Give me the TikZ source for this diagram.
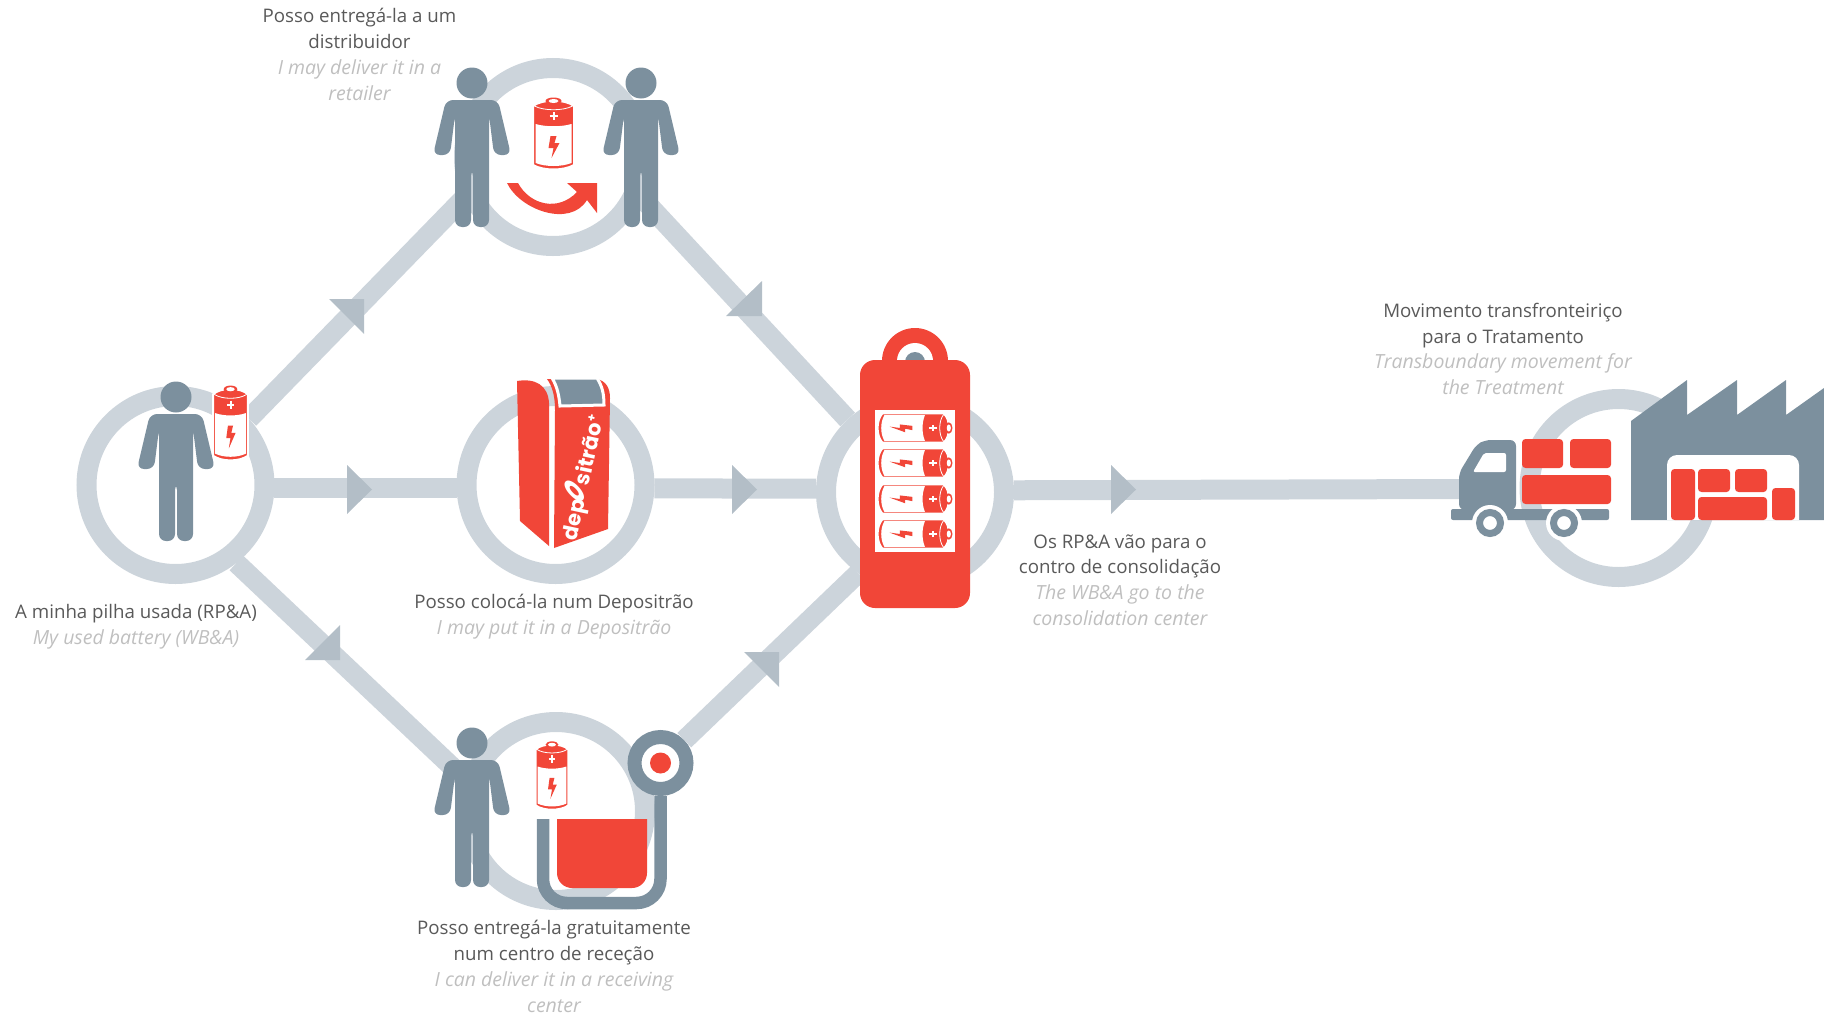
\documentclass[tikz,border=0pt]{standalone}
\usepackage{fontspec}
\setmainfont{Open Sans}
\newfontfamily\binfont{Poppins}
\definecolor{ringgrey}{HTML}{CCD4DB}
\definecolor{tipgrey}{HTML}{B3BEC7}
\definecolor{slate}{HTML}{7C909E}
\definecolor{alert}{HTML}{F14638}
\definecolor{textdark}{HTML}{595959}
\definecolor{textsoft}{HTML}{BFBFBF}
\newcommand{\eng}[1]{{\fontsize{9.75}{12.9}\selectfont\itshape\color{textsoft}#1}}
\tikzset{
  ring/.style={draw=ringgrey,circle,line width=10pt,minimum size=89pt,inner sep=0pt},
  flow/.style={draw=ringgrey,line width=10pt},
  tip/.style={fill=tipgrey},
  infotext/.style={align=center,text=textdark,inner sep=0pt,font=\fontsize{9.35}{12.9}\selectfont},
  wheel/.style={circle,draw=slate,fill=white,line width=3.5pt,minimum size=10.5pt,inner sep=0pt},
  block/.style={fill=alert,rounded corners=1.75pt},
  person/.pic={
    \fill[slate] (0,0) circle (15.5);
    \fill[slate,rounded corners=3.5pt] (-26,17) -- (26,17) -- (39,72) -- (22,72) -- (17,32) -- (17,144)
      -- (1,144) -- (1,86) -- (-1,86) -- (-1,144) -- (-17,144) -- (-17,32) -- (-22,72) -- (-39,72) -- cycle;
  },
  battery/.pic={
    \path[fill=alert,draw=white,line width=1pt] (-20.5,-28) -- (-20.5,31) .. controls (-10,37) and (10,37) .. (20.5,31)
      -- (20.5,-28) .. controls (12,-35) and (-12,-35) .. cycle;
    \draw[white,line width=.4pt] (-19,-28) .. controls (-10,-23) and (10,-23) .. (19,-28);
    \fill[alert] (0,-33) ellipse (8 and 3.5);
    \fill[white] (0,-33) ellipse (5 and 2);
    \fill[white] (-18,-10) .. controls (-8,-7) and (8,-7) .. (18,-10) -- (18,29) .. controls (8,33) and (-8,33) .. (-18,29) -- cycle;
    \draw[white,line width=1pt] (-4,-18) -- (4,-18) (0,-22) -- (0,-14);
    \fill[alert] (-3,2) -- (3,2) -- (1,9) -- (6,9) -- (-2,24) -- (0,14) -- (-5,14) -- cycle;
  }
}
\begin{document}
\begin{tikzpicture}[x=.5pt,y=-.5pt]
\useasboundingbox (0,0) rectangle (1824,1017);
%rings
\node[ring] (used) at (175.5,485) {};
\node[ring] (retail) at (553,157) {};
\node[ring] (drop) at (555.5,485) {};
\node[ring] (recept) at (556,811) {};
\node[ring] (consol) at (915,492) {};
\node[ring] (depot) at (1618.5,488) {};
\node[circle,draw=slate,fill=white,line width=7pt,minimum size=26pt,inner sep=0pt] (target) at (660.5,763) {};
\coordinate (cabside) at (1462,489);
%connectors
\draw[flow] (used.42)--(retail.205);
\draw[flow] (used.-2.3)--(drop.182.3);
\draw[flow] (used.-52)--(recept.160);
\draw[flow] (retail.-25)--(consol);
\draw[flow] (drop.-2.3)--(consol.178.2);
\draw[flow] (target)--(consol.235);
\draw[flow] (consol.1.8)--(cabside);
%arrow marks
\fill[tip] (329,299)--(364,299)--(364,334)--cycle;
\fill[tip] (762,281)--(762,316)--(726,316)--cycle;
\fill[tip] (340,625)--(340,660)--(305,660)--cycle;
\fill[tip] (744,652)--(779,652)--(779,687)--cycle;
\fill[tip] (347,465)--(347,514)--(372,489.5)--cycle;
\fill[tip] (732,465)--(732,514)--(757,489.5)--cycle;
\fill[tip] (1111,465)--(1111,514)--(1136,489.5)--cycle;
%used battery
\pic at (176,397) {person};
\pic[xscale=.85,yscale=1.04] at (230.5,423.5) {battery};
%retailer
\pic at (472,83) {person};
\pic at (641,83) {person};
\pic at (553.5,134) {battery};
\fill[alert] (507,183)--(518,183) .. controls (530,205) and (558,212) .. (577,192)--(567,183)--(597,183)--(597,213)--(587,200)
  .. controls (570,228) and (520,210) .. cycle;
%depositrao bin
\fill[alert] (517,381) .. controls (535,378) and (548,385) .. (549,403)--(549,546)--(520,521)--cycle;
\fill[alert] (547,379)--(597,379) .. controls (606,381) and (610,388) .. (610,398)--(608,529)--(554,548)--(555,410) .. controls (555,395) and (552,386) .. cycle;
\path[fill=slate,draw=white,line width=1.5pt] (552,378)--(597,378) .. controls (602,386) and (604,393) .. (604,405)--(560,406) .. controls (559,395) and (557,386) .. cycle;
\node[rotate=78,text=white,inner sep=0pt,font=\binfont\bfseries\fontsize{10.5}{11}\selectfont] (binname) at (580,477) {dep\hspace{-2.5pt}\rotatebox[origin=c]{-35}{\scalebox{.95}[2.1]{o}}\hspace{-2.5pt}sitrão\raisebox{3.5pt}{\fontsize{6}{6}\selectfont+}};
%consolidation clasp
\fill[alert] (915,361) circle (33);
\fill[white] (915,361) circle (18);
\fill[slate] (915,362) circle (10);
\fill[alert,rounded corners=7.5pt] (860,360) rectangle (970,608);
\fill[white] (875,410) rectangle (955,552);
\foreach \y in {428,463,499,534}
  \pic[rotate=-90,xscale=.71,yscale=1.04] at (914.5,\y) {battery};
%receiving center
\pic at (472,743) {person};
\pic[xscale=.8,yscale=.95] at (552,776) {battery};
\fill[alert] (557,819) [rounded corners=7.5pt] --(557,888)--(647,888) [sharp corners] --(647,819)--cycle;
\draw[slate,line width=6.25pt,rounded corners=12pt] (543,819)--(543,903)--(660.5,903)--(target);
\node[circle,fill=alert,minimum size=10.5pt,inner sep=0pt] (dot) at (target) {};
%truck
\fill[slate,rounded corners=3pt] (1459,510)--(1459,473)--(1476,445)--(1485,440)--(1516,440)--(1516,510)--cycle;
\fill[white,rounded corners=1pt] (1473,472)--(1484,453)--(1506,453)--(1506,472)--cycle;
\fill[slate,rounded corners=1pt] (1451,509) rectangle (1609,520);
\fill[white] (1490,523) circle (18);
\fill[white] (1564,523) circle (18);
\node[wheel] (rearwheel) at (1490,523) {};
\node[wheel] (frontwheel) at (1564,523) {};
\fill[block] (1522,439) rectangle (1563,468);
\fill[block] (1570,439) rectangle (1611,468);
\fill[block] (1522,475) rectangle (1611,504);
%factory
\fill[slate] (1631,421)--(1687,380)--(1687,415)--(1737,380)--(1737,415)--(1786,380)--(1786,415)--(1824,388)--(1824,520)--(1631,520)--cycle;
\fill[white] (1667,520) [rounded corners=5pt] --(1667,455)--(1799,455) [sharp corners] --(1799,520)--cycle;
\fill[block] (1671,469) rectangle (1695,520);
\fill[block] (1698,469) rectangle (1730,492);
\fill[block] (1735,469) rectangle (1767,492);
\fill[block] (1698,497) rectangle (1767,520);
\fill[block] (1772,488) rectangle (1795,520);
%labels
\node[infotext] (retailtext) at (359.5,54.5) {Posso entregá-la a um\\distribuidor\\\eng{I may deliver it in a}\\\eng{retailer}};
\node[infotext] (usedtext) at (136,626.5) {A minha pilha usada (RP\&A)\\\eng{My used battery (WB\&A)}};
\node[infotext] (droptext) at (554,616.5) {Posso colocá-la num Depositrão\\\eng{I may put it in a Depositrão}};
\node[infotext] (consoltext) at (1120,580) {Os RP\&A vão para o\\contro de consolidação\\\eng{The WB\&A go to the}\\\eng{consolidation center}};
\node[infotext] (depottext) at (1503,349) {Movimento transfronteiriço\\para o Tratamento\\\eng{Transboundary movement for}\\\eng{the Treatment}};
\node[infotext] (recepttext) at (554,966.5) {Posso entregá-la gratuitamente\\num centro de receção\\\eng{I can deliver it in a receiving}\\\eng{center}};
\end{tikzpicture}
\end{document}
